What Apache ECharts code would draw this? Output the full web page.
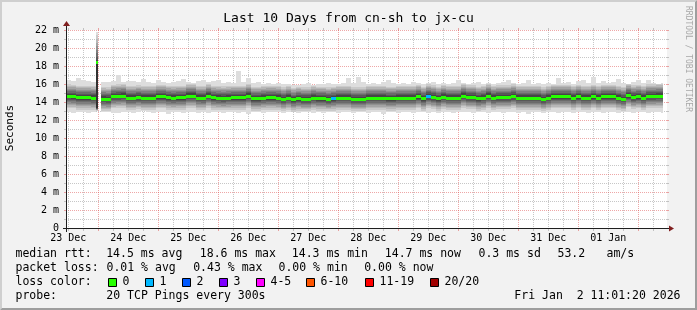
<!DOCTYPE html>
<html><head><meta charset="utf-8">
<script src="https://cdn.jsdelivr.net/npm/echarts@6/dist/echarts.min.js"></script>
<style>html,body{margin:0;padding:0;background:#f2f2f2}#c{width:697px;height:310px}</style>
</head><body><div id="c"></div>
<script>
// ---------- DATA (hours counted from 23 Dec 00:00) ----------
const colStart = [11,13,15,17,19,21,23,24,
 25,27,29,31,33,35,37,39,41,43,45,47,49,51,53,55,57,59,61,63,65,67,69,71,73,75,77,79,81,83,85,87,89,91,93,95,97,99,
 101,103,105,107,109,111,113,115,117,119,121,123,125,127,129,131,133,135,137,139,141,143,145,147,149,151,153,155,157,159,
 161,163,165,167,169,171,173,175,177,179,181,183,185,187,189,191,193,195,197,199,201,203,205,207,209,211,213,215,217,219,
 221,223,225,227,229,231,233,235,237,239,241,243,245,247,249];
const colEnd = 250;
// median rtt (ms) per column
const medianRtt = [14.65,14.63,14.51,14.51,14.51,14.48,18.5,null,
 14.38,14.33,14.64,14.66,14.70,14.48,14.48,14.55,14.48,14.48,14.48,14.63,14.63,
 14.51,14.48,14.51,14.51,14.70,14.70,14.50,14.48,14.70,14.51,14.48,14.44,14.50,14.51,14.51,14.51,14.70,14.40,14.40,14.48,
 14.51,14.51,14.48,14.33,14.48,14.28,14.40,14.33,14.33,14.48,14.40,14.40,14.33,14.40,14.48,14.48,14.48,14.33,14.33,14.33,
 14.48,14.48,14.48,14.48,14.40,14.40,14.48,14.48,14.48,14.48,14.63,14.40,14.66,14.55,14.40,14.59,14.48,14.48,14.48,14.70,
 14.55,14.55,14.40,14.48,14.70,14.48,14.55,14.55,14.55,14.66,14.48,14.48,14.48,14.48,14.48,14.33,14.48,14.63,14.63,14.63,
 14.63,14.48,14.63,14.48,14.48,14.63,14.48,14.63,14.63,14.63,14.48,14.36,14.74,14.55,14.63,14.48,14.66,14.66,14.70,
 14.70];
// slowest ping (ms) per column
const pingMax = [16.4,16.3,16.7,16.5,16.3,16.2,21.8,null,
 16.2,16.2,16.3,17.0,16.2,16.3,16.3,16.2,16.6,16.2,16.1,16.5,16.2,
 16.1,16.2,16.3,16.6,16.2,16.1,16.3,16.5,16.2,16.3,16.4,16.1,16.2,16.1,17.4,16.2,16.7,16.1,16.2,16.0,
 16.1,16.0,16.1,16.0,16.0,15.9,15.9,16.0,16.1,15.9,16.0,16.0,16.1,16.0,16.0,16.1,16.7,16.1,16.8,16.2,
 16.0,16.1,16.0,16.2,16.4,16.1,16.0,16.1,16.0,16.2,16.1,16.0,16.1,16.2,16.0,16.1,16.0,16.1,16.5,16.1,
 16.0,16.1,16.2,16.0,16.1,16.0,16.1,16.2,16.5,16.1,16.0,16.1,16.4,16.0,16.1,16.0,16.1,16.0,16.7,16.1,
 16.2,16.0,16.3,16.4,16.1,16.8,16.1,16.3,16.1,16.2,16.6,16.1,16.0,16.2,16.4,16.1,16.4,16.1,16.0,
 16.1];
// fastest ping (ms) per column
const pingMin = [12.9,12.8,12.85,12.9,12.8,12.9,12.95,null,
 12.85,12.9,12.8,12.75,12.9,12.85,12.8,12.9,12.95,12.85,12.8,12.9,12.85,12.7,12.9,12.85,12.8,12.9,12.85,12.8,
 12.9,12.75,12.85,12.9,12.8,12.85,12.9,12.8,12.85,12.7,12.9,12.85,12.8,12.9,12.85,12.9,12.8,12.85,12.9,12.8,
 12.85,12.9,12.8,12.85,12.75,12.9,12.85,12.8,12.9,12.85,12.8,12.9,12.85,12.8,12.9,12.85,12.7,12.85,12.9,12.8,
 12.85,12.9,12.8,12.85,12.9,12.8,12.85,12.75,12.9,12.85,12.8,12.9,12.85,12.9,12.8,12.85,12.9,12.8,12.85,12.9,
 12.8,12.85,12.9,12.8,12.85,12.7,12.9,12.85,12.8,12.9,12.85,12.8,12.9,12.85,12.8,12.9,12.85,12.8,12.9,12.85,
 12.8,12.9,12.85,12.75,12.9,12.85,12.8,12.9,12.85,12.8,12.9,12.85,12.8];
// columns with lost pings: [column start hour, pings lost]
const lossAt = [[117,1],[155,1]];
// the spike column: its 20 sorted pings (ms)
const spikeStart = 23;
const spikePings = [13.0,13.05,13.1,13.1,13.15,13.2,13.2,13.25,13.3,13.3,18.6,18.7,19.0,19.4,19.8,20.2,20.6,21.0,21.4,21.8];
// typical ping spread around the median (ms): pings 11..19 above, pings 10..2 below
const upperSpread = [0.1,0.25,0.4,0.55,0.7,0.85,1.0,1.15,1.3];
const lowerSpread = [0.1,0.25,0.4,0.55,0.7,0.85,1.0,1.15,1.35];
// ticks
const yMajor = [2,4,6,8,10,12,14,16,18,20,22];
const yMinor = [1,3,5,7,9,11,13,15,17,19,21];
const dayLines = [24,48,72,96,120,144,168,192,216,240];
const sixHourLines = [12,18,30,36,42,54,60,66,78,84,90,102,108,114,126,132,138,150,156,162,174,180,186,198,204,210,222,228,234,246];
const noonTicks = [12,36,60,84,108,132,156,180,204,228];
const dayLabels = ['23 Dec','24 Dec','25 Dec','26 Dec','27 Dec','28 Dec','29 Dec','30 Dec','31 Dec','01 Jan'];
const lossLabels = ['0','1','2','3','4-5','6-10','11-19','20/20'];
const lossColors = ['#26ff00','#00b8ff','#0059ff','#7e00ff','#ff00ff','#ff5500','#ff0000','#a10000'];
const rttStats = ['14.5 ms avg','18.6 ms max','14.3 ms min','14.7 ms now','0.3 ms sd','53.2','am/s'];
const lossStats = ['0.01 % avg','0.43 % max','0.00 % min','0.00 % now'];
const titleText = 'Last 10 Days from cn-sh to jx-cu';
const probeText = '20 TCP Pings every 300s';
const dateText = 'Fri Jan  2 11:01:20 2026';
const xMin = 11.5, xMax = 251.5;

// ---------- RENDER ----------
const MONO = '"DejaVu Sans Mono", monospace';
const chart = echarts.init(document.getElementById('c'), null, {renderer:'canvas'});

function colEndOf(i){ return i + 1 < colStart.length ? colStart[i+1] : colEnd; }
function lossOf(i){ const f = lossAt.find(a => a[0] === colStart[i]); return f ? f[1] : 0; }
function lossColorIdx(l){ if (l<=3) return l; if (l<=5) return 4; if (l<=10) return 5; if (l<=19) return 6; return 7; }
function pingsFor(i){
  if (colStart[i] === spikeStart) return spikePings;
  const m = medianRtt[i], lo = pingMin[i], hi = pingMax[i];
  const p = [lo];
  for (let j = lowerSpread.length - 1; j >= 0; j--) p.push(Math.max(lo, m - lowerSpread[j]));
  for (let j = 0; j < upperSpread.length; j++) p.push(Math.min(hi, m + upperSpread[j]));
  p.push(hi);
  return p;
}
const colData = colStart.map(t => [t, 0]);

const smokeSeries = {
  type:'custom', z:2, clip:true, silent:true, data: colData, encode:{x:0, y:1},
  renderItem(params, api){
    const i = params.dataIndex;
    if (medianRtt[i] == null) return null;
    const x0 = Math.round(api.coord([colStart[i], 0])[0]);
    const x1 = Math.round(api.coord([colEndOf(i), 0])[0]);
    const p = pingsFor(i);
    const children = [];
    for (let k = 0; k < 19; k++){
      const ya = Math.round(api.coord([colStart[i], p[k]])[1]);
      const yb = Math.round(api.coord([colStart[i], p[k+1]])[1]);
      if (ya - yb <= 0) continue;
      const s = k + 1, level = Math.min(s, 20 - s);
      const g = 19 * (10 - level) + 50;
      children.push({type:'rect', shape:{x:x0, y:yb, width:x1-x0, height:ya-yb}, style:{fill:`rgb(${g},${g},${g})`}});
    }
    return {type:'group', children};
  }
};
const medianSeries = {
  type:'custom', z:3, clip:true, silent:true, data: colData, encode:{x:0, y:1},
  renderItem(params, api){
    const i = params.dataIndex, m = medianRtt[i];
    if (m == null) return null;
    const x0 = Math.round(api.coord([colStart[i], 0])[0]);
    const x1 = Math.round(api.coord([colEndOf(i), 0])[0]);
    const yc = Math.round(api.coord([colStart[i], m])[1]);
    return {type:'rect', shape:{x:x0, y:yc-1, width:x1-x0, height:3}, style:{fill: lossColors[lossColorIdx(lossOf(i))]}};
  }
};
// grid lines (under the data)
const gridItems = [];
yMinor.forEach(v => gridItems.push(['h', v, 0]));
sixHourLines.forEach(v => gridItems.push(['v', v, 0]));
yMajor.forEach(v => gridItems.push(['h', v, 1]));
dayLines.forEach(v => gridItems.push(['v', v, 1]));
const MINOR_C = 'rgba(143,143,143,0.5)', MAJOR_C = 'rgba(222,79,79,0.5)';
const gridSeries = {
  type:'custom', z:1, clip:false, silent:true, data: gridItems.map(g => [g[0]==='v'? g[1] : xMin, g[0]==='h'? g[1] : 0]), encode:{x:0,y:1},
  renderItem(params, api){
    const g = gridItems[params.dataIndex];
    const col = g[2] ? MAJOR_C : MINOR_C;
    const ch = [];
    if (g[0] === 'h'){
      const a = api.coord([xMin, g[1]]), b = api.coord([xMax, g[1]]);
      const y = Math.floor(a[1]) + 0.5;
      ch.push({type:'line', shape:{x1:a[0]+1, y1:y, x2:b[0], y2:y}, style:{stroke:col, lineWidth:1, lineDash:[1,1]}});
      ch.push({type:'line', shape:{x1:a[0]-3, y1:y, x2:a[0]-1, y2:y}, style:{stroke:col, lineWidth:1}});
      ch.push({type:'line', shape:{x1:b[0], y1:y, x2:b[0]+2, y2:y}, style:{stroke:col, lineWidth:1}});
    } else {
      const a = api.coord([g[1], 0]), b = api.coord([g[1], 22]);
      const x = Math.floor(a[0]) + 0.5;
      ch.push({type:'line', shape:{x1:x, y1:b[1], x2:x, y2:a[1]}, style:{stroke:col, lineWidth:1, lineDash:[1,1]}});
      ch.push({type:'line', shape:{x1:x, y1:a[1]+1, x2:x, y2:a[1]+3}, style:{stroke:col, lineWidth:1}});
      ch.push({type:'line', shape:{x1:x, y1:b[1]-2, x2:x, y2:b[1]}, style:{stroke:col, lineWidth:1}});
    }
    return {type:'group', children:ch};
  }
};

// ---------- layout decorations ----------
const W = 697, H = 310;
const PL = 67, PT = 30, PW = 600, PH = 198;
const AXIS_C = '#1f1f1f', ARROW_C = '#801f1f';
function txt(text, x, y, size, opts){
  opts = opts || {};
  return {type:'text', x, y, rotation: opts.rot || 0, z:100, silent:true,
    style:{text, font: size + 'px ' + MONO, fill: opts.fill || '#000',
      align: opts.align || 'left', textAlign: opts.align || 'left',
      verticalAlign:'middle', textVerticalAlign:'middle'}};
}
const graphic = [
  {type:'polygon', z:100, silent:true, shape:{points:[[0,0],[W,0],[W-2,2],[2,2],[2,H-2],[0,H]]}, style:{fill:'#cfcfcf'}},
  {type:'polygon', z:100, silent:true, shape:{points:[[W,0],[W,H],[0,H],[2,H-2],[W-2,H-2],[W-2,2]]}, style:{fill:'#9e9e9e'}},
  // axes
  {type:'line', z:100, silent:true, shape:{x1:PL-4, y1:PT+PH+0.5, x2:PL+PW+4, y2:PT+PH+0.5}, style:{stroke:AXIS_C, lineWidth:1}},
  {type:'line', z:100, silent:true, shape:{x1:PL-0.5, y1:PT+PH+4, x2:PL-0.5, y2:PT-4}, style:{stroke:AXIS_C, lineWidth:1}},
  {type:'polygon', z:100, silent:true, shape:{points:[[PL+PW+2,PT+PH-2.5],[PL+PW+2,PT+PH+3.5],[PL+PW+7,PT+PH+0.5]]}, style:{fill:ARROW_C}},
  {type:'polygon', z:100, silent:true, shape:{points:[[PL-4,PT-4],[PL+3,PT-4],[PL-0.5,PT-9]]}, style:{fill:ARROW_C}},
  txt(titleText, 348.5, 18.5, 13, {align:'center'}),
  txt('Seconds', 10.5, 128, 11, {rot: Math.PI/2, align:'center'}),
  txt('RRDTOOL / TOBI OETIKER', 688.5, 59, 8, {rot: -Math.PI/2, align:'center', fill:'#a8a8a8'}),
  txt('median rtt:', 15.5, 254.5, 11.5),
  txt('packet loss:', 15.5, 268.5, 11.5),
  txt('loss color:', 15.5, 282.5, 11.5),
  txt('probe:', 15.5, 296.5, 11.5),
  txt(probeText, 106.3, 296.5, 11.5),
  txt(dateText, 680.5, 296.5, 11.5, {align:'right'})
];
const rttX = [106.2, 199.8, 291.8, 384.8, 478.5, 557.5, 606.5];
rttStats.forEach((s, i) => graphic.push(txt(s, rttX[i], 254.5, 11.5)));
const lossX = [106.5, 193.2, 278.5, 364.2];
lossStats.forEach((s, i) => graphic.push(txt(s, lossX[i], 268.5, 11.5)));
const boxX = [108.5, 145.5, 182.5, 219.5, 256.5, 306.5, 365.5, 430.5];
lossLabels.forEach((s, i) => {
  graphic.push({type:'rect', z:100, silent:true, shape:{x:boxX[i], y:278.5, width:8, height:8}, style:{fill:lossColors[i], stroke:'#000', lineWidth:1}});
  graphic.push(txt(s, boxX[i] + 14, 282.5, 11.5));
});

chart.setOption({
  animation:false,
  backgroundColor:'#f2f2f2',
  grid:{left:PL, top:PT, width:PW, height:PH, show:true, backgroundColor:'#ffffff', borderWidth:0, containLabel:false, outerBoundsMode:'none'},
  xAxis:{type:'value', min:xMin, max:xMax, axisLine:{show:false}, axisTick:{show:false}, splitLine:{show:false},
    axisLabel:{customValues: noonTicks, formatter: v => { const k = noonTicks.indexOf(v); return k >= 0 ? dayLabels[k] : ''; },
      fontFamily: MONO, fontSize:10, color:'#000', margin:10, verticalAlign:'middle'}},
  yAxis:{type:'value', min:0, max:22, interval:2, axisLine:{show:false}, axisTick:{show:false}, splitLine:{show:false},
    axisLabel:{formatter: v => v === 0 ? '0' : v + ' m', fontFamily: MONO, fontSize:10, color:'#000', margin:8}},
  series:[gridSeries, smokeSeries, medianSeries],
  graphic
});
</script></body></html>
